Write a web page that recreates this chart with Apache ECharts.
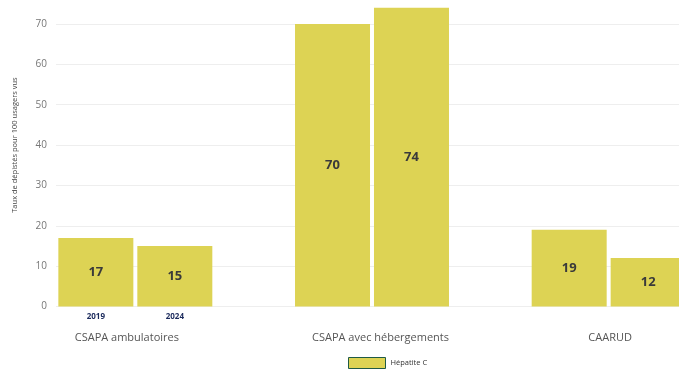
<!DOCTYPE html>
<html>
<head>
<meta charset="utf-8">
<script src="https://cdn.jsdelivr.net/npm/echarts@6/dist/echarts.min.js"></script>
<style>
  html, body { margin: 0; padding: 0; background: #fff; }
  #chart { width: 679px; height: 373px; }
</style>
</head>
<body>
<div id="chart"></div>
<script>
// Screening rate per 100 users seen, by structure type and year
const categories = ['CSAPA ambulatoires', 'CSAPA avec hébergements', 'CAARUD'];
const years = ['2019', '2024'];
const values2019 = [17, 70, 19];
const values2024 = [15, 74, 12];
const seriesName = 'Hépatite C';
const yTicks = [0, 10, 20, 30, 40, 50, 60, 70, 80];

const FONT = '"Open Sans", "Noto Sans", sans-serif';
const BAR = '#DDD354';
const yMin = yTicks[0], yMax = yTicks[yTicks.length - 1];
const gridTop = -16.4, gridHeight = 322.9;
// horizontal nudges of the category captions
const captionPad = [[0, 17, 0, 0], [0, 0, 0, 17], [0, 0, 0, 3]];

function yearLabelSeries(year) {
  // zero-height bar at the base of the stack, carrying the year caption under the first group
  return {
    name: year, type: 'bar', xAxisIndex: 1, yAxisIndex: 1, stack: 's' + year,
    barWidth: 75, silent: true,
    data: categories.map((c, i) => i === 0 ? 0 : '-'),
    itemStyle: { color: 'transparent' },
    label: {
      show: true, position: 'bottom', distance: 6,
      formatter: () => year,
      fontFamily: FONT, fontSize: 8, fontWeight: 'bold', color: '#1b2a5c'
    }
  };
}

function valueSeries(year, vals) {
  return {
    name: seriesName, type: 'bar', xAxisIndex: 1, yAxisIndex: 1, stack: 's' + year,
    barWidth: 75, barGap: '5.3%',
    data: vals,
    itemStyle: { color: BAR },
    label: {
      show: true, position: 'inside',
      fontFamily: FONT, fontSize: 13, fontWeight: 'bold', color: '#3a3a3a'
    }
  };
}

const chart = echarts.init(document.getElementById('chart'), null, { renderer: 'canvas' });
chart.setOption({
  animation: false,
  textStyle: { fontFamily: FONT },
  grid: [
    { left: 56, width: 623, top: gridTop, height: gridHeight, outerBoundsMode: 'none', containLabel: false },
    { left: 17, width: 710, top: gridTop, height: gridHeight, outerBoundsMode: 'none', containLabel: false }
  ],
  legend: {
    data: [seriesName],
    top: 352, left: 343,
    icon: 'rect', itemWidth: 37, itemHeight: 11, itemGap: 6,
    textStyle: { fontFamily: FONT, fontSize: 7.5, color: '#333' },
    itemStyle: { color: BAR, borderColor: '#1f5a45', borderWidth: 1 }
  },
  xAxis: [
    { gridIndex: 0, type: 'category', data: categories, show: false },
    {
      gridIndex: 1, type: 'category',
      data: categories.map((c, i) => ({ value: c, textStyle: { padding: captionPad[i] } })),
      axisLine: { show: false }, axisTick: { show: false },
      axisLabel: { margin: 26, fontFamily: FONT, fontSize: 11, color: '#555' }
    }
  ],
  yAxis: [
    {
      gridIndex: 0, type: 'value', min: yMin, max: yMax, interval: 10,
      name: 'Taux de dépistés pour 100 usagers vus',
      nameLocation: 'middle', nameGap: 37, nameRotate: 90,
      nameTextStyle: { fontFamily: FONT, fontSize: 7.5, color: '#444' },
      axisLine: { show: false }, axisTick: { show: false },
      axisLabel: { margin: 9, fontFamily: FONT, fontSize: 10, color: '#777' },
      splitLine: { lineStyle: { color: '#eeeeee', width: 1 } }
    },
    { gridIndex: 1, type: 'value', min: yMin, max: yMax, show: false, splitLine: { show: false } }
  ],
  series: [
    yearLabelSeries(years[0]),
    valueSeries(years[0], values2019),
    yearLabelSeries(years[1]),
    valueSeries(years[1], values2024)
  ]
});
</script>
</body>
</html>
